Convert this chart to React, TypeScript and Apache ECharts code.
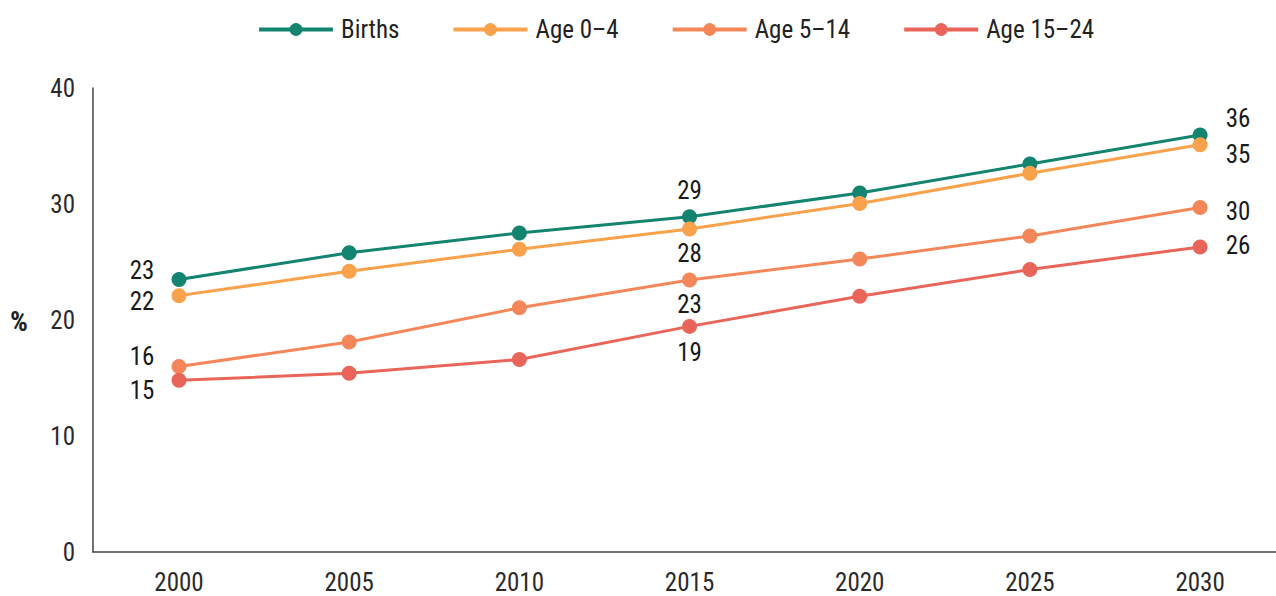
import React, { useEffect, useRef } from "react";
import * as echarts from "echarts";

const years = [2000, 2005, 2010, 2015, 2020, 2025, 2030];
const births = [23.49, 25.8, 27.5, 28.9, 30.95, 33.45, 35.95];
const age0to4 = [22.1, 24.2, 26.1, 27.85, 30.05, 32.65, 35.1];
const age5to14 = [16.0, 18.1, 21.05, 23.45, 25.25, 27.25, 29.7];
const age15to24 = [14.8, 15.4, 16.6, 19.45, 22.05, 24.35, 26.3];
const seriesNames = ["Births", "Age 0\u20134", "Age 5\u201314", "Age 15\u201324"];
const seriesValues = [births, age0to4, age5to14, age15to24];
const colors = ["#13846f", "#f9a14b", "#f4875a", "#e9655a"];
const yTicks = [0, 10, 20, 30, 40];
const xTickLabels = years;

// label offsets per series for the labelled points: index -> [dx, dy]
const labelOffsets: Record<number, [number, number]>[] = [
  { 0: [-37, -9], 3: [0, -26], 6: [38, -16] },
  { 0: [-37, 6], 3: [0, 25], 6: [38, 10] },
  { 0: [-37, -10], 3: [0, 25], 6: [38, 4] },
  { 0: [-37, 10], 3: [0, 26], 6: [38, -1] },
];

const FONT = "'Liberation Sans Narrow', 'Arial Narrow', 'Roboto Condensed', 'DejaVu Sans Condensed', sans-serif";

export default function App() {
  const ref = useRef<HTMLDivElement>(null);
  useEffect(() => {
    if (!ref.current) return;
    const chart = echarts.init(ref.current, undefined, { renderer: "svg" });
    const series = seriesNames.map((name, si) => ({
      name,
      type: "line",
      data: years.map((yr, i) => {
        const off = labelOffsets[si][i];
        const item: any = { value: [yr, seriesValues[si][i]] };
        if (off) {
          item.label = {
            show: true,
            position: "inside",
            offset: off,
            formatter: (p: any) => String(Math.round(p.value[1])),
            fontFamily: FONT,
            fontSize: 25,
            color: "#1a1a1a",
          };
        }
        return item;
      }),
      symbol: "circle",
      symbolSize: 15,
      lineStyle: { width: 3, color: colors[si] },
      itemStyle: { color: colors[si] },
      label: { show: false },
      emphasis: { disabled: true },
    }));
    chart.setOption({
      animation: false,
      legend: {
        left: 252,
        top: 12,
        itemWidth: 74,
        itemHeight: 16,
        itemGap: 52,
        lineStyle: { width: 4 },
        textStyle: { fontFamily: FONT, fontSize: 25, color: "#222", padding: [0, 0, 0, 3] },
        data: seriesNames,
      },
      grid: { left: 93, right: 0, top: 88, bottom: 44, containLabel: false },
      xAxis: {
        type: "value",
        min: 1997.473,
        max: 2032.23,
        axisLine: { show: true, lineStyle: { color: "#444", width: 1.5 } },
        axisTick: { show: false },
        splitLine: { show: false },
        axisLabel: {
          customValues: xTickLabels,
          formatter: (v: number) => String(v),
          fontFamily: FONT,
          fontSize: 25,
          color: "#2a2a2a",
          margin: 18,
        },
      },
      yAxis: {
        type: "value",
        min: yTicks[0],
        max: yTicks[yTicks.length - 1],
        interval: 10,
        axisLine: { show: true, lineStyle: { color: "#444", width: 1.5 } },
        axisTick: { show: false },
        splitLine: { show: false },
        axisLabel: { fontFamily: FONT, fontSize: 25, color: "#2a2a2a", margin: 18 },
      },
      graphic: [
        {
          type: "text",
          left: 10,
          top: 307,
          style: { text: "%", fontFamily: FONT, fontSize: 28, fontWeight: "bold", fill: "#222" },
        },
      ],
      series,
    });
    return () => chart.dispose();
  }, []);
  return (
    <div
      ref={ref}
      style={{ position: "fixed", left: 0, top: 0, width: 1276, height: 596, background: "#fff" }}
    />
  );
}
